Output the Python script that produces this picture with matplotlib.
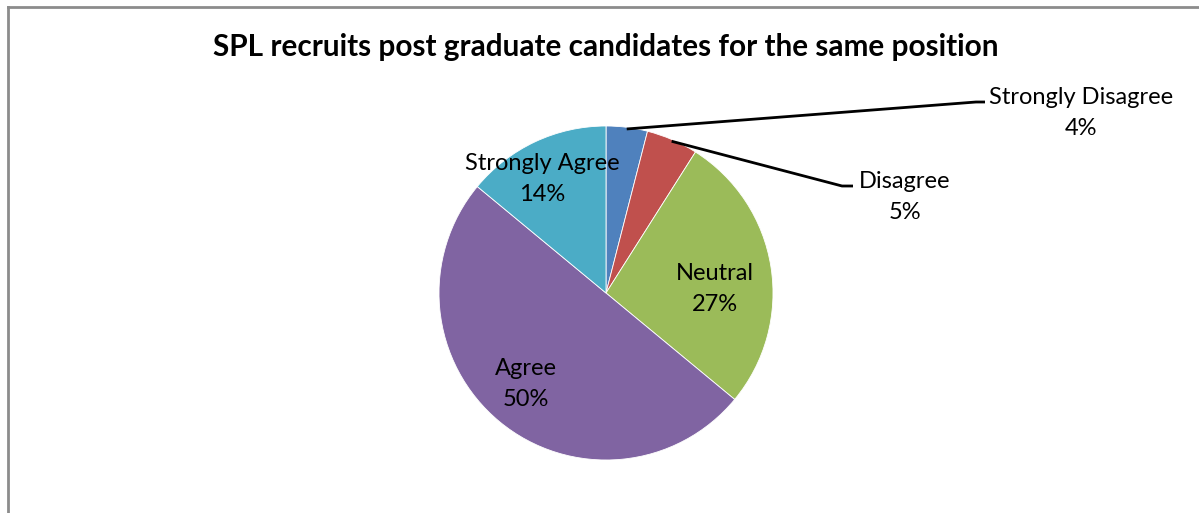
import numpy as np
import matplotlib
matplotlib.use("Agg")
import matplotlib.pyplot as plt
from matplotlib.lines import Line2D

title = "SPL recruits post graduate candidates for the same position"
categories = ["Strongly Disagree", "Disagree", "Neutral", "Agree", "Strongly Agree"]
values = [4, 5, 27, 50, 14]
colors = ["#4F81BD", "#C0504D", "#9BBB59", "#8064A2", "#4BACC6"]

W, H = 1199, 513
plt.rcParams["font.family"] = ["Lato", "DejaVu Sans"]

fig = plt.figure(figsize=(W / 100, H / 100), dpi=100)
ax = fig.add_axes([0, 0, 1, 1])

# pie in pixel units (y axis flipped, so clockwise on screen = counterclock in data)
cx, cy, r = 606, 293, 167
wedges, _ = ax.pie(values, colors=colors, startangle=-90, counterclock=True,
                   center=(cx, cy), radius=r, frame=True,
                   wedgeprops=dict(edgecolor="white", linewidth=0.6))
ax.set_xlim(0, W)
ax.set_ylim(H, 0)
ax.set_aspect("equal")
ax.axis("off")

label_kw = dict(ha="center", va="center", fontsize=17, color="black", linespacing=1.6)

# labels inside the pie
inside = {"Neutral": (715, 289), "Agree": (526, 384), "Strongly Agree": (542, 179)}
# labels outside, with leader lines: text centre, elbow, line end
outside = {"Strongly Disagree": ((1081, 113), (976, 102), (985, 102)),
           "Disagree": ((905, 197), (842, 186), (853, 186))}

for name, val, w in zip(categories, values, wedges):
    text = f"{name}\n{val}%"
    if name in inside:
        ax.text(*inside[name], text, **label_kw)
    else:
        (tx, ty), (ex, ey), (lx, ly) = outside[name]
        mid = np.deg2rad((w.theta1 + w.theta2) / 2)
        px, py = cx + r * 0.99 * np.cos(mid), cy + r * 0.99 * np.sin(mid)
        ax.plot([px, ex, lx], [py, ey, ly], color="black", lw=2,
                solid_capstyle="butt")
        ax.text(tx, ty, text, **label_kw)

ax.text(606, 47, title, ha="center", va="center", fontsize=21.4,
        fontweight="bold", color="black")

# chart area border (left and top edges)
fig.add_artist(Line2D([8 / W, 8 / W], [0, 1 - 7 / H], transform=fig.transFigure,
                      color="#8C8C8C", lw=2))
fig.add_artist(Line2D([8 / W, 1], [1 - 7 / H, 1 - 7 / H], transform=fig.transFigure,
                      color="#8C8C8C", lw=2))

fig.savefig("out.png", dpi=100)
